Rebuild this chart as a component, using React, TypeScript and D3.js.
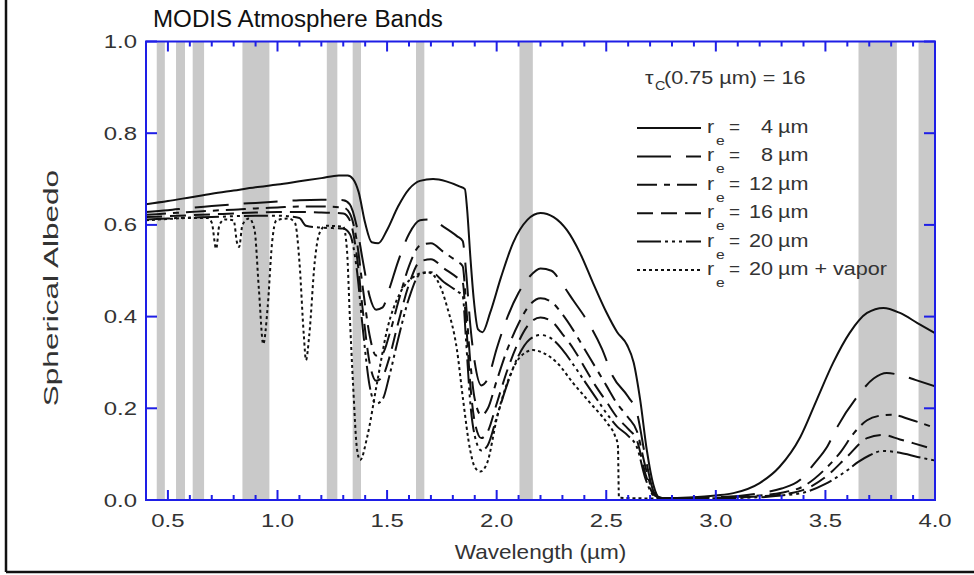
import React from "react";
import * as d3 from "d3";

const W = 974;
const H = 575;

const xDomain: [number, number] = [0.4, 4.0];
const yDomain: [number, number] = [0, 1];
const xMajorTicks = [0.5, 1.0, 1.5, 2.0, 2.5, 3.0, 3.5, 4.0];
const xTickLabels = ["0.5", "1.0", "1.5", "2.0", "2.5", "3.0", "3.5", "4.0"];
const xMinorTicks = d3.range(5, 40).map((d) => d / 10).filter((d) => Math.round(d * 10) % 5 !== 0);
const yTicks = [0, 0.2, 0.4, 0.6, 0.8, 1.0];
const yTickLabels = ["0.0", "0.2", "0.4", "0.6", "0.8", "1.0"];

// MODIS atmosphere bands (µm)
const bandStart = [0.449, 0.537, 0.613, 0.84, 1.225, 1.343, 1.632, 2.104, 3.651, 3.925];
const bandEnd = [0.486, 0.578, 0.665, 0.963, 1.273, 1.381, 1.67, 2.165, 3.826, 4.0];

type P = [number, number];

const re4: P[] = [
  [0.4, 0.645], [0.5, 0.652], [0.6, 0.66], [0.7, 0.668], [0.8, 0.675], [0.9, 0.682], [1.0, 0.688],
  [1.1, 0.695], [1.2, 0.702], [1.28, 0.708], [1.32, 0.708], [1.345, 0.7], [1.37, 0.672], [1.4, 0.604],
  [1.43, 0.562], [1.46, 0.56], [1.5, 0.589], [1.55, 0.64], [1.6, 0.678], [1.65, 0.696], [1.71, 0.7],
  [1.77, 0.695], [1.83, 0.684], [1.855, 0.678], [1.865, 0.635], [1.88, 0.53], [1.895, 0.44],
  [1.915, 0.372], [1.935, 0.366], [1.97, 0.408], [2.02, 0.486], [2.075, 0.561], [2.14, 0.611],
  [2.2, 0.626], [2.26, 0.617], [2.32, 0.589], [2.38, 0.539], [2.44, 0.473], [2.5, 0.41], [2.55, 0.366],
  [2.595, 0.338], [2.625, 0.3], [2.655, 0.218], [2.685, 0.109], [2.715, 0.033], [2.745, 0.004],
  [2.9, 0.006], [3.0, 0.01], [3.08, 0.015], [3.2, 0.037], [3.29, 0.072], [3.385, 0.137], [3.46, 0.218],
  [3.535, 0.299], [3.61, 0.364], [3.69, 0.408], [3.765, 0.419], [3.84, 0.408], [3.92, 0.386], [4.0, 0.364],
];

const re8: P[] = [
  [0.4, 0.628], [0.5, 0.632], [0.6, 0.637], [0.7, 0.641], [0.8, 0.645], [0.9, 0.648], [1.0, 0.651],
  [1.1, 0.654], [1.2, 0.655], [1.3, 0.654], [1.33, 0.645], [1.36, 0.6], [1.39, 0.52], [1.42, 0.445],
  [1.45, 0.415], [1.48, 0.42], [1.51, 0.46], [1.55, 0.52], [1.6, 0.58], [1.65, 0.61], [1.7, 0.612],
  [1.76, 0.595], [1.82, 0.575], [1.845, 0.565], [1.86, 0.5], [1.88, 0.38], [1.9, 0.3], [1.93, 0.25],
  [1.96, 0.265], [2.0, 0.33], [2.05, 0.4], [2.1, 0.452], [2.15, 0.487], [2.2, 0.505], [2.25, 0.5],
  [2.3, 0.47], [2.35, 0.435], [2.41, 0.393], [2.48, 0.33], [2.53, 0.27], [2.6, 0.225], [2.64, 0.19],
  [2.68, 0.09], [2.72, 0.015], [2.76, 0.004], [3.0, 0.006], [3.2, 0.015], [3.3, 0.025], [3.385, 0.044],
  [3.45, 0.08], [3.51, 0.118], [3.555, 0.16], [3.645, 0.225], [3.72, 0.265], [3.78, 0.277],
  [3.85, 0.271], [3.91, 0.262], [4.0, 0.248],
];

const re12: P[] = [
  [0.4, 0.622], [0.5, 0.625], [0.6, 0.628], [0.7, 0.631], [0.8, 0.633], [0.9, 0.636], [1.0, 0.638],
  [1.1, 0.64], [1.2, 0.64], [1.3, 0.638], [1.33, 0.625], [1.36, 0.57], [1.39, 0.46], [1.42, 0.36],
  [1.45, 0.315], [1.48, 0.32], [1.51, 0.36], [1.55, 0.43], [1.6, 0.51], [1.65, 0.555], [1.7, 0.56],
  [1.76, 0.54], [1.82, 0.52], [1.845, 0.51], [1.86, 0.43], [1.88, 0.3], [1.9, 0.22], [1.93, 0.185],
  [1.96, 0.2], [2.0, 0.26], [2.05, 0.33], [2.1, 0.385], [2.15, 0.425], [2.2, 0.44], [2.25, 0.432],
  [2.3, 0.405], [2.35, 0.37], [2.4, 0.33], [2.45, 0.29], [2.5, 0.25], [2.55, 0.21], [2.6, 0.18],
  [2.64, 0.15], [2.68, 0.07], [2.72, 0.012], [2.76, 0.004], [3.0, 0.005], [3.2, 0.01], [3.3, 0.016],
  [3.4, 0.03], [3.5, 0.068], [3.57, 0.105], [3.63, 0.146], [3.69, 0.174], [3.75, 0.184], [3.8, 0.186],
  [3.89, 0.175], [4.0, 0.157],
];

const re16: P[] = [
  [0.4, 0.617], [0.5, 0.619], [0.6, 0.621], [0.7, 0.623], [0.8, 0.625], [0.9, 0.627], [1.0, 0.628],
  [1.1, 0.628], [1.2, 0.627], [1.3, 0.625], [1.33, 0.61], [1.36, 0.54], [1.39, 0.41], [1.42, 0.3],
  [1.45, 0.26], [1.48, 0.27], [1.51, 0.31], [1.55, 0.385], [1.6, 0.47], [1.65, 0.52], [1.7, 0.525],
  [1.76, 0.505], [1.82, 0.485], [1.845, 0.475], [1.86, 0.39], [1.88, 0.25], [1.9, 0.17], [1.93, 0.135],
  [1.96, 0.15], [2.0, 0.21], [2.05, 0.285], [2.1, 0.345], [2.15, 0.385], [2.2, 0.398], [2.25, 0.39],
  [2.3, 0.362], [2.35, 0.33], [2.4, 0.29], [2.45, 0.25], [2.5, 0.215], [2.55, 0.18], [2.6, 0.155],
  [2.64, 0.13], [2.68, 0.055], [2.72, 0.01], [2.76, 0.004], [3.0, 0.004], [3.2, 0.008], [3.3, 0.012],
  [3.4, 0.022], [3.5, 0.05], [3.6, 0.095], [3.69, 0.135], [3.76, 0.142], [3.84, 0.132], [3.9, 0.124],
  [4.0, 0.11],
];

const re20: P[] = [
  [0.4, 0.612], [0.5, 0.614], [0.6, 0.616], [0.7, 0.617], [0.8, 0.619], [0.9, 0.62], [1.0, 0.62],
  [1.1, 0.615], [1.13, 0.598], [1.2, 0.594], [1.3, 0.592], [1.33, 0.58], [1.36, 0.51], [1.39, 0.37],
  [1.42, 0.25], [1.45, 0.21], [1.48, 0.22], [1.51, 0.27], [1.55, 0.35], [1.6, 0.44], [1.65, 0.492],
  [1.7, 0.497], [1.76, 0.475], [1.82, 0.455], [1.845, 0.445], [1.86, 0.35], [1.88, 0.21], [1.9, 0.14],
  [1.93, 0.108], [1.96, 0.12], [2.0, 0.18], [2.05, 0.255], [2.1, 0.315], [2.15, 0.35], [2.2, 0.36],
  [2.25, 0.352], [2.3, 0.328], [2.35, 0.295], [2.4, 0.26], [2.45, 0.225], [2.5, 0.19], [2.55, 0.16],
  [2.6, 0.14], [2.64, 0.115], [2.68, 0.045], [2.72, 0.008], [2.76, 0.004], [3.0, 0.004], [3.2, 0.006],
  [3.3, 0.01], [3.4, 0.016], [3.5, 0.035], [3.6, 0.065], [3.65, 0.083], [3.7, 0.097], [3.76, 0.107],
  [3.84, 0.103], [3.92, 0.094], [4.0, 0.086],
];

const re20vapor: P[] = [
  [0.4, 0.61], [0.5, 0.613], [0.6, 0.615], [0.68, 0.615], [0.7, 0.605], [0.72, 0.548], [0.735, 0.6],
  [0.76, 0.612], [0.8, 0.61], [0.815, 0.562], [0.825, 0.552], [0.84, 0.6], [0.87, 0.614], [0.895, 0.59],
  [0.915, 0.46], [0.935, 0.34], [0.955, 0.42], [0.975, 0.56], [0.995, 0.61], [1.05, 0.614], [1.08, 0.604],
  [1.1, 0.52], [1.12, 0.36], [1.13, 0.305], [1.145, 0.36], [1.17, 0.52], [1.19, 0.58], [1.22, 0.598],
  [1.3, 0.596], [1.317, 0.545], [1.33, 0.4], [1.345, 0.25], [1.363, 0.11], [1.377, 0.087], [1.409, 0.137],
  [1.454, 0.255], [1.5, 0.371], [1.559, 0.451], [1.619, 0.486], [1.683, 0.497], [1.728, 0.48],
  [1.774, 0.421], [1.819, 0.327], [1.847, 0.218], [1.879, 0.109], [1.9, 0.072], [1.925, 0.062],
  [1.956, 0.08], [2.002, 0.181], [2.048, 0.255], [2.107, 0.312], [2.166, 0.327], [2.212, 0.321],
  [2.276, 0.299], [2.349, 0.255], [2.426, 0.212], [2.504, 0.168], [2.54, 0.14], [2.553, 0.12],
  [2.558, 0.005], [2.75, 0.003],
];

const seriesData = [re4, re8, re12, re16, re20, re20vapor];
const seriesValueLabels = ["4", "8", "12", "16", "20", "20"];
const seriesUnitLabels = ["µm", "µm", "µm", "µm", "µm", "µm + vapor"];
const seriesDash = ["none", "34,15", "20,7,6,7", "16,8", "24,4,3,4,3,4,3,4", "3,3"];

const title = "MODIS Atmosphere Bands";
const xTitle = "Wavelength (µm)";
const yTitle = "Spherical Albedo";

const FONT = "'Liberation Sans', Arial, Helvetica, sans-serif";
const AXIS = "#1e1ee6";
const TXT = "#333";

function SText(props: {
  x: number;
  y: number;
  sx: number;
  size: number;
  anchor?: string;
  fill?: string;
  children: React.ReactNode;
}) {
  const { x, y, sx, size, anchor, fill, children } = props;
  return (
    <text
      transform={`translate(${x},${y}) scale(${sx},1)`}
      textAnchor={anchor || "start"}
      fontFamily={FONT}
      fontSize={size}
      fill={fill || TXT}
    >
      {children}
    </text>
  );
}

export default function App() {
  const x = d3.scaleLinear().domain(xDomain).range([146, 935]);
  const y = d3.scaleLinear().domain(yDomain).range([500, 41.5]);
  const line = d3
    .line<P>()
    .x((d) => x(d[0]))
    .y((d) => y(d[1]))
    .curve(d3.curveMonotoneX);

  const [x0, x1] = x.range();
  const [yb, yt] = y.range();

  const legendX = 637;
  const legendY0 = 128;
  const legendDy = 28.4;
  const LS = 1.2;

  return (
    <svg width={W} height={H} style={{ display: "block", position: "absolute", left: 0, top: 0 }}>
      <rect x={0} y={0} width={W} height={H} fill="#fff" />
      {/* outer frame */}
      <line x1={6} y1={0} x2={6} y2={572} stroke="#111" strokeWidth={2.5} />
      <line x1={6} y1={572} x2={W} y2={572} stroke="#111" strokeWidth={2.5} />

      <defs>
        <clipPath id="plot">
          <rect x={x0} y={yt} width={x1 - x0} height={yb - yt} />
        </clipPath>
      </defs>

      {/* bands */}
      {bandStart.map((s, i) => (
        <rect
          key={"b" + i}
          x={x(s)}
          y={yt}
          width={x(bandEnd[i]) - x(s)}
          height={yb - yt}
          fill="#c9c9c9"
        />
      ))}

      {/* curves */}
      <g clipPath="url(#plot)">
        {seriesData.map((d, i) => (
          <path
            key={"s" + i}
            d={line(d) || ""}
            fill="none"
            stroke="#111"
            strokeWidth={2}
            strokeDasharray={seriesDash[i]}
          />
        ))}
      </g>

      {/* ticks */}
      {xMajorTicks.map((t) => (
        <g key={"xt" + t}>
          <line x1={x(t)} x2={x(t)} y1={yb} y2={yb - 10} stroke={AXIS} strokeWidth={2} />
          <line x1={x(t)} x2={x(t)} y1={yt} y2={yt + 10} stroke={AXIS} strokeWidth={2} />
        </g>
      ))}
      {xMinorTicks.map((t) => (
        <g key={"xm" + t}>
          <line x1={x(t)} x2={x(t)} y1={yb} y2={yb - 5} stroke={AXIS} strokeWidth={2} />
          <line x1={x(t)} x2={x(t)} y1={yt} y2={yt + 5} stroke={AXIS} strokeWidth={2} />
        </g>
      ))}
      {yTicks.map((t) => (
        <g key={"yt" + t}>
          <line x1={x0} x2={x0 + 11} y1={y(t)} y2={y(t)} stroke={AXIS} strokeWidth={2} />
          <line x1={x1} x2={x1 - 11} y1={y(t)} y2={y(t)} stroke={AXIS} strokeWidth={2} />
        </g>
      ))}
      <rect x={x0} y={yt} width={x1 - x0} height={yb - yt} fill="none" stroke={AXIS} strokeWidth={2} />

      {/* tick labels */}
      {xMajorTicks.map((t, i) => (
        <SText key={"xl" + t} x={x(t)} y={527} sx={1.33} size={18} anchor="middle">
          {xTickLabels[i]}
        </SText>
      ))}
      {yTicks.map((t, i) => (
        <SText key={"yl" + t} x={137} y={y(t) + 6.5} sx={1.33} size={18} anchor="end">
          {yTickLabels[i]}
        </SText>
      ))}

      {/* titles */}
      <SText x={153} y={27} sx={1.05} size={23} fill="#111">
        {title}
      </SText>
      <SText x={(x0 + x1) / 2} y={559} sx={1.13} size={20} anchor="middle">
        {xTitle}
      </SText>
      <text
        transform={`translate(58,288) rotate(-90) scale(1.5,1)`}
        textAnchor="middle"
        fontFamily={FONT}
        fontSize={21}
        fill={TXT}
      >
        {yTitle}
      </text>

      {/* legend */}
      <g>
        <SText x={645} y={84} sx={LS} size={18}>τ</SText>
        <SText x={655} y={90} sx={LS} size={12}>C</SText>
        <SText x={664} y={84} sx={LS} size={18}>(0.75 µm) = 16</SText>
        {seriesData.map((_, i) => {
          const ly = legendY0 + i * legendDy;
          return (
            <g key={"lg" + i}>
              <line
                x1={legendX}
                x2={legendX + 64}
                y1={ly}
                y2={ly}
                stroke="#111"
                strokeWidth={2}
                strokeDasharray={seriesDash[i]}
              />
              <SText x={707} y={ly + 5} sx={LS} size={18}>r</SText>
              <SText x={716} y={ly + 17} sx={LS} size={13}>e</SText>
              <SText x={729} y={ly + 5} sx={1.05} size={18}>=</SText>
              <SText x={773} y={ly + 5} sx={LS} size={18} anchor="end">{seriesValueLabels[i]}</SText>
              <SText x={778} y={ly + 5} sx={LS} size={18}>{seriesUnitLabels[i]}</SText>
            </g>
          );
        })}
      </g>
    </svg>
  );
}
